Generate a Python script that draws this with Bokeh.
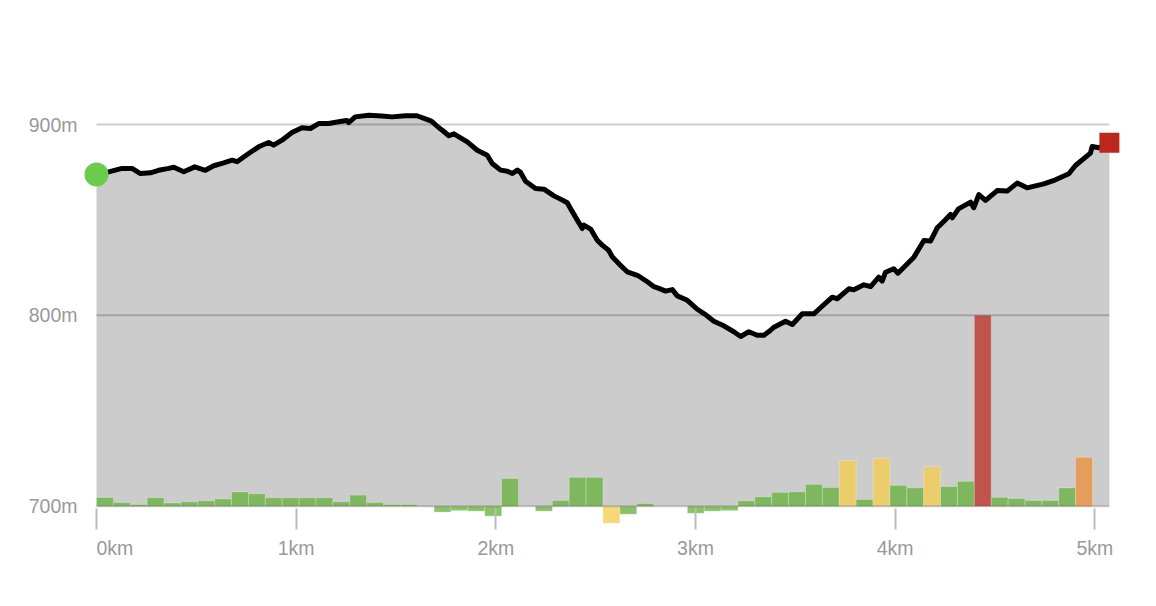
from bokeh.plotting import figure
from bokeh.models import Range1d, FixedTicker, Label
from bokeh.embed import file_html
from bokeh.resources import INLINE

# ---------------- data ----------------
distance_km = [
    0.000, 0.061, 0.128, 0.178, 0.220, 0.270, 0.311, 0.362, 0.387, 0.437,
    0.492, 0.545, 0.587, 0.637, 0.679, 0.704, 0.762, 0.812, 0.862, 0.887,
    0.929, 0.979, 1.029, 1.071, 1.113, 1.163, 1.213, 1.254, 1.263, 1.296,
    1.363, 1.430, 1.480, 1.547, 1.605, 1.664, 1.682, 1.715, 1.732, 1.765,
    1.790, 1.857, 1.907, 1.957, 1.982, 2.024, 2.058, 2.083, 2.108, 2.124,
    2.149, 2.199, 2.241, 2.291, 2.324, 2.358, 2.374, 2.408, 2.433, 2.441,
    2.475, 2.508, 2.533, 2.565, 2.583, 2.624, 2.658, 2.709, 2.759, 2.792,
    2.817, 2.850, 2.884, 2.909, 2.959, 3.009, 3.050, 3.092, 3.142, 3.192,
    3.226, 3.267, 3.309, 3.343, 3.376, 3.393, 3.451, 3.485, 3.535, 3.593,
    3.626, 3.685, 3.710, 3.768, 3.793, 3.843, 3.877, 3.918, 3.935, 3.952,
    3.993, 4.014, 4.044, 4.094, 4.144, 4.177, 4.211, 4.252, 4.277, 4.286,
    4.317, 4.378, 4.394, 4.419, 4.453, 4.511, 4.561, 4.611, 4.661, 4.745,
    4.803, 4.870, 4.903, 4.978, 4.987, 5.020, 5.073,
]
elevation_m = [
    873.8, 875.2, 877.0, 877.0, 874.3, 874.7, 876.0, 877.0, 877.6, 875.2,
    877.8, 876.0, 878.4, 879.9, 881.3, 880.5, 884.8, 888.3, 890.6, 889.2,
    891.8, 895.8, 898.3, 897.9, 900.5, 900.5, 901.4, 902.1, 901.0, 904.0,
    904.9, 904.5, 904.0, 904.6, 904.6, 902.3, 901.4, 898.3, 897.0, 894.1,
    895.1, 890.9, 886.5, 883.9, 879.6, 876.1, 875.5, 874.3, 876.1, 874.9,
    870.3, 866.5, 866.1, 862.6, 860.9, 859.0, 856.0, 849.9, 845.5, 847.3,
    845.2, 839.4, 836.8, 834.1, 830.7, 826.3, 822.8, 821.0, 817.6, 815.0,
    814.1, 812.7, 813.5, 810.2, 807.9, 803.2, 800.4, 796.9, 794.5, 791.4,
    788.9, 791.4, 789.6, 789.6, 792.2, 793.8, 796.9, 795.2, 800.8, 800.8,
    804.0, 809.5, 808.7, 813.9, 813.4, 816.0, 815.1, 820.0, 817.9, 822.6,
    824.4, 822.1, 825.2, 830.5, 839.2, 838.9, 845.9, 850.1, 852.9, 851.1,
    855.8, 859.3, 856.4, 863.3, 860.2, 865.4, 865.1, 869.3, 866.8, 868.9,
    871.0, 874.2, 878.5, 885.0, 888.5, 887.8, 890.5,
]

# gradient per equal-length segment (percent)
grade_pct = [
    0.46, 0.19, 0.09, 0.44, 0.17, 0.23, 0.28, 0.38, 0.75, 0.65,
    0.44, 0.44, 0.44, 0.44, 0.23, 0.58, 0.19, 0.09, 0.09, 0.02,
    -0.31, -0.23, -0.26, -0.52, 1.45, 0.00, -0.26, 0.30, 1.51, 1.51,
    -0.89, -0.42, 0.14, 0.00, 0.00, -0.37, -0.26, -0.23, 0.28, 0.49,
    0.72, 0.75, 1.14, 0.98, 2.40, 0.35, 2.50, 1.09, 0.96, 2.08,
    1.03, 1.30, 10.00, 0.46, 0.40, 0.30, 0.30, 0.96, 2.56, 0.00,
]
grade_class = [
    "easy", "easy", "easy", "easy", "easy", "easy", "easy", "easy", "easy", "easy",
    "easy", "easy", "easy", "easy", "easy", "easy", "easy", "easy", "easy", "easy",
    "easy", "easy", "easy", "easy", "easy", "easy", "easy", "easy", "easy", "easy",
    "moderate", "easy", "easy", "easy", "easy", "easy", "easy", "easy", "easy", "easy",
    "easy", "easy", "easy", "easy", "moderate", "easy", "moderate", "easy", "easy", "moderate",
    "easy", "easy", "extreme", "easy", "easy", "easy", "easy", "easy", "hard", "easy",
]

x_ticks = [0, 1, 2, 3, 4, 5]
x_tick_labels = ["0km", "1km", "2km", "3km", "4km", "5km"]
y_ticks = [700, 800, 900]
y_tick_labels = ["700m", "800m", "900m"]
base_elevation = 700

# ---------------- styling ----------------
class_colors = {
    "easy": "#69b13f",
    "moderate": "#f4cd4f",
    "hard": "#ec8f3c",
    "extreme": "#bc3127",
}
FONT = "Liberation Sans"
FONT_SIZE = "19.5px"
LABEL_COLOR = "#999999"

W, H = 1156, 606
B_LEFT, B_RIGHT, B_TOP, B_BOTTOM = 82, 33, 20, 0
PX_PER_M = 1.9085
Y_700_PX = 505.7          # canvas row of the 700 m line
AXIS_PX = 529             # canvas row where the x-axis ticks start
LABEL_PX = 536            # canvas row of the top of the x tick labels

def px_to_m(py):
    return base_elevation + (Y_700_PX - py) / PX_PER_M

y_start, y_end = px_to_m(H - B_BOTTOM), px_to_m(B_TOP)
x_start, x_end = -0.0701, 5.1437

p = figure(
    width=W, height=H,
    x_range=Range1d(x_start, x_end),
    y_range=Range1d(y_start, y_end),
    output_backend="svg", toolbar_location=None,
    min_border_left=B_LEFT, min_border_right=B_RIGHT,
    min_border_top=B_TOP, min_border_bottom=B_BOTTOM,
)
p.extra_y_ranges = {
    "grade": Range1d((y_start - base_elevation) / 10.0, (y_end - base_elevation) / 10.0)
}
p.outline_line_color = None
p.background_fill_color = "white"
p.border_fill_color = "white"
p.grid.visible = False

# area under the profile
p.varea(x=distance_km, y1=[base_elevation] * len(distance_km), y2=elevation_m,
        fill_color="#cccccc")

# gradient bars
n = len(grade_pct)
seg = distance_km[-1] / n
centers = [(i + 0.5) * seg for i in range(n)]
colors = [class_colors[c] for c in grade_class]
p.vbar(x=centers, width=seg, top=grade_pct, bottom=0, y_range_name="grade",
       fill_color=colors, fill_alpha=0.78,
       line_color="white", line_alpha=0.25, line_width=1)

# horizontal grid lines (only over the profile's extent)
p.segment(x0=[distance_km[0]] * len(y_ticks), x1=[distance_km[-1]] * len(y_ticks),
          y0=y_ticks, y1=y_ticks, line_color="black", line_alpha=0.2, line_width=2)

# profile line
p.line(distance_km, elevation_m, line_color="black", line_width=5,
       line_join="round", line_cap="round")

# start / end markers
p.scatter([distance_km[0]], [elevation_m[0]], marker="circle", size=24,
          fill_color="#6bcb4b", line_color=None)
p.scatter([distance_km[-1]], [elevation_m[-1]], marker="square", size=20,
          fill_color="#bc271c", line_color=None)

# axes
xa = p.xaxis[0]
xa.fixed_location = px_to_m(AXIS_PX)
xa.ticker = FixedTicker(ticks=x_ticks)
xa.major_label_overrides = {t: ("" if i == 0 else lab)
                            for i, (t, lab) in enumerate(zip(x_ticks, x_tick_labels))}
xa.axis_line_color = None
xa.minor_tick_line_color = None
xa.major_tick_in = 21
xa.major_tick_out = 0
xa.major_tick_line_color = "#bbbbbb"
xa.major_tick_line_width = 2
xa.major_label_standoff = LABEL_PX - AXIS_PX
xa.major_label_text_font = FONT
xa.major_label_text_font_size = FONT_SIZE
xa.major_label_text_color = LABEL_COLOR

ya = p.yaxis[0]
ya.ticker = FixedTicker(ticks=y_ticks)
ya.major_label_overrides = {t: lab for t, lab in zip(y_ticks, y_tick_labels)}
ya.axis_line_color = None
ya.minor_tick_line_color = None
ya.major_tick_line_color = None
ya.major_tick_in = 0
ya.major_tick_out = 0
ya.major_label_standoff = 5
ya.major_label_text_font = FONT
ya.major_label_text_font_size = FONT_SIZE
ya.major_label_text_color = LABEL_COLOR

# first x label is left-aligned on its tick
p.add_layout(Label(x=x_ticks[0], y=px_to_m(LABEL_PX), text=x_tick_labels[0],
                   text_align="left", text_baseline="top",
                   text_font=FONT, text_font_size=FONT_SIZE, text_color=LABEL_COLOR))

open("out.html", "w").write(file_html(p, INLINE))
